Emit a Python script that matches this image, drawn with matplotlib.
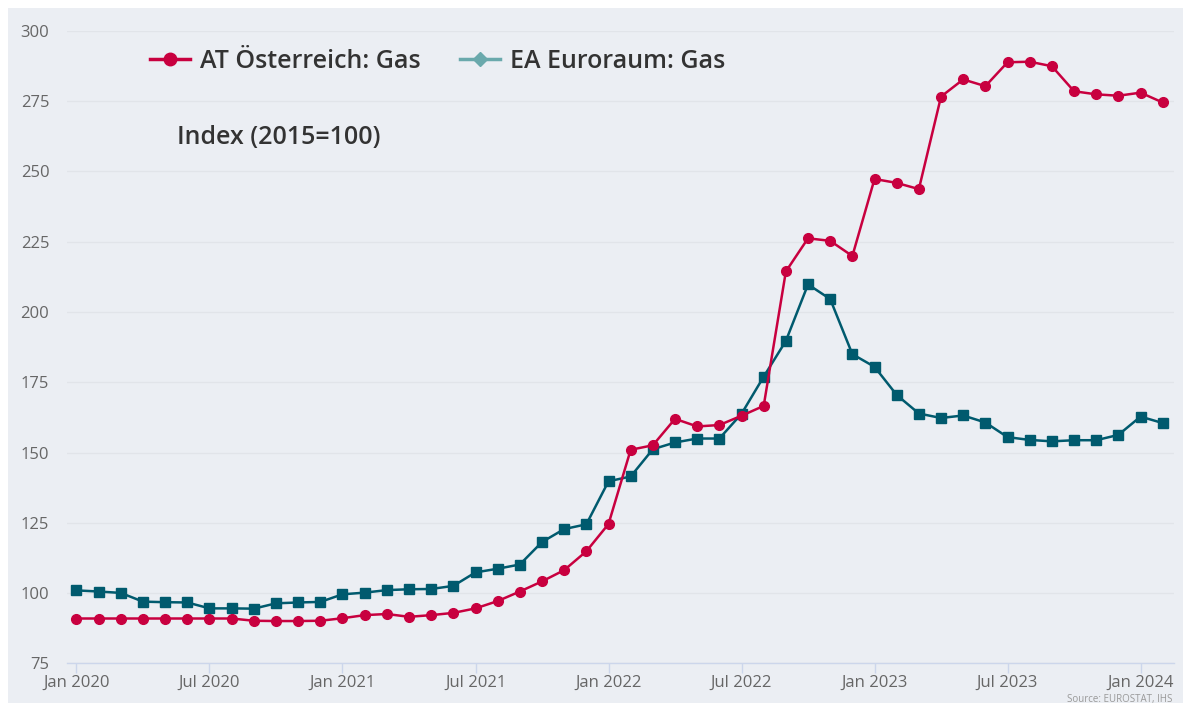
import numpy as np
import matplotlib.pyplot as plt
from matplotlib.lines import Line2D

# --- DATA (monthly HICP gas index, 2015=100) ---
months = ["Jan 2020", "Feb 2020", "Mar 2020", "Apr 2020", "May 2020", "Jun 2020",
          "Jul 2020", "Aug 2020", "Sep 2020", "Oct 2020", "Nov 2020", "Dec 2020",
          "Jan 2021", "Feb 2021", "Mar 2021", "Apr 2021", "May 2021", "Jun 2021",
          "Jul 2021", "Aug 2021", "Sep 2021", "Oct 2021", "Nov 2021", "Dec 2021",
          "Jan 2022", "Feb 2022", "Mar 2022", "Apr 2022", "May 2022", "Jun 2022",
          "Jul 2022", "Aug 2022", "Sep 2022", "Oct 2022", "Nov 2022", "Dec 2022",
          "Jan 2023", "Feb 2023", "Mar 2023", "Apr 2023", "May 2023", "Jun 2023",
          "Jul 2023", "Aug 2023", "Sep 2023", "Oct 2023", "Nov 2023", "Dec 2023",
          "Jan 2024", "Feb 2024"]

at_gas = [91.0, 91.0, 91.0, 91.0, 91.0, 91.0, 91.0, 91.0, 90.2, 90.1, 90.1, 90.2,
          91.1, 92.2, 92.6, 91.6, 92.2, 93.0, 94.6, 97.2, 100.6, 104.2, 108.2, 114.9,
          124.6, 151.0, 152.6, 162.0, 159.3, 159.8, 163.1, 166.6, 214.4, 226.2, 225.3, 219.9,
          247.3, 245.9, 243.7, 276.6, 282.7, 280.3, 288.8, 289.0, 287.4, 278.5, 277.4, 276.9,
          278.0, 274.5]

ea_gas = [101.0, 100.6, 100.1, 97.0, 96.8, 96.7, 94.6, 94.6, 94.5, 96.4, 96.7, 96.9,
          99.6, 100.2, 101.1, 101.4, 101.5, 102.6, 107.4, 108.7, 110.2, 118.2, 122.8, 124.5,
          139.8, 141.5, 151.2, 153.6, 155.0, 155.0, 163.8, 177.0, 189.7, 209.8, 204.6, 185.0,
          180.5, 170.5, 163.9, 162.3, 163.2, 160.7, 155.5, 154.5, 154.0, 154.4, 154.4, 156.3,
          162.8, 160.5]

tick_months = ["Jan 2020", "Jul 2020", "Jan 2021", "Jul 2021", "Jan 2022",
               "Jul 2022", "Jan 2023", "Jul 2023", "Jan 2024"]
y_ticks = [75, 100, 125, 150, 175, 200, 225, 250, 275, 300]

# --- STYLE ---
bg = "#ebeef3"
red = "#c8003f"
teal = "#005a6e"
teal_legend = "#6aa9ac"
plt.rcParams['font.family'] = ['Open Sans', 'DejaVu Sans']

x = np.arange(len(months))

fig = plt.figure(figsize=(11.83, 7.06), dpi=100, facecolor="white")
# light panel behind the chart (thin white strip left/top like the source)
fig.patches.append(plt.Rectangle((8 / 1183, 0.004), 1, 0.985, transform=fig.transFigure,
                                 facecolor=bg, edgecolor="none", zorder=-10))

ax = fig.add_axes([0.0564, 0.0602, 0.9362, 0.8962])
ax.patch.set_alpha(0)

ax.plot(x, ea_gas, color=teal, linewidth=1.8, marker="s", markersize=7, zorder=3)
ax.plot(x, at_gas, color=red, linewidth=1.8, marker="o", markersize=7, zorder=4)

ax.set_xlim(-0.44, 49.52)
ax.set_ylim(75, 300)
ax.set_yticks(y_ticks)
ax.set_xticks([months.index(m) for m in tick_months])
ax.set_xticklabels(tick_months)

ax.grid(axis="y", color="#e1e4e9", linewidth=1.0)
ax.set_axisbelow(True)
for side in ["top", "right", "left"]:
    ax.spines[side].set_visible(False)
ax.spines["bottom"].set_color("#ccd6eb")
ax.spines["bottom"].set_linewidth(1.0)

ax.tick_params(axis="y", length=0, pad=12.5, labelsize=12, labelcolor="#666666")
ax.tick_params(axis="x", length=7, width=1, color="#ccd6eb", pad=1.5,
               labelsize=12, labelcolor="#666666")

# --- LEGEND & ANNOTATIONS ---
handles = [
    Line2D([], [], color=red, linewidth=2.5, marker="o", markersize=9),
    Line2D([], [], color=teal_legend, linewidth=2.5, marker="D", markersize=7),
]
leg = fig.legend(handles, ["AT Österreich: Gas", "EA Euroraum: Gas"], ncol=2,
                 loc="center left", bbox_to_anchor=(127 / 1183, 1 - 61 / 706),
                 frameon=False, handlelength=1.6, handletextpad=0.4, columnspacing=1.6,
                 prop={"size": 18, "weight": "semibold"})
for t in leg.get_texts():
    t.set_color("#333333")

fig.text(177 / 1183, 1 - 138 / 706, "Index (2015=100)", fontsize=18, fontweight="semibold",
         color="#333333", va="center", ha="left")
fig.text(1172 / 1183, 1 - 705 / 706, "Source: EUROSTAT, IHS", fontsize=7, color="#999999",
         ha="right", va="bottom")

fig.savefig("out.png", dpi=100, facecolor=fig.get_facecolor())
